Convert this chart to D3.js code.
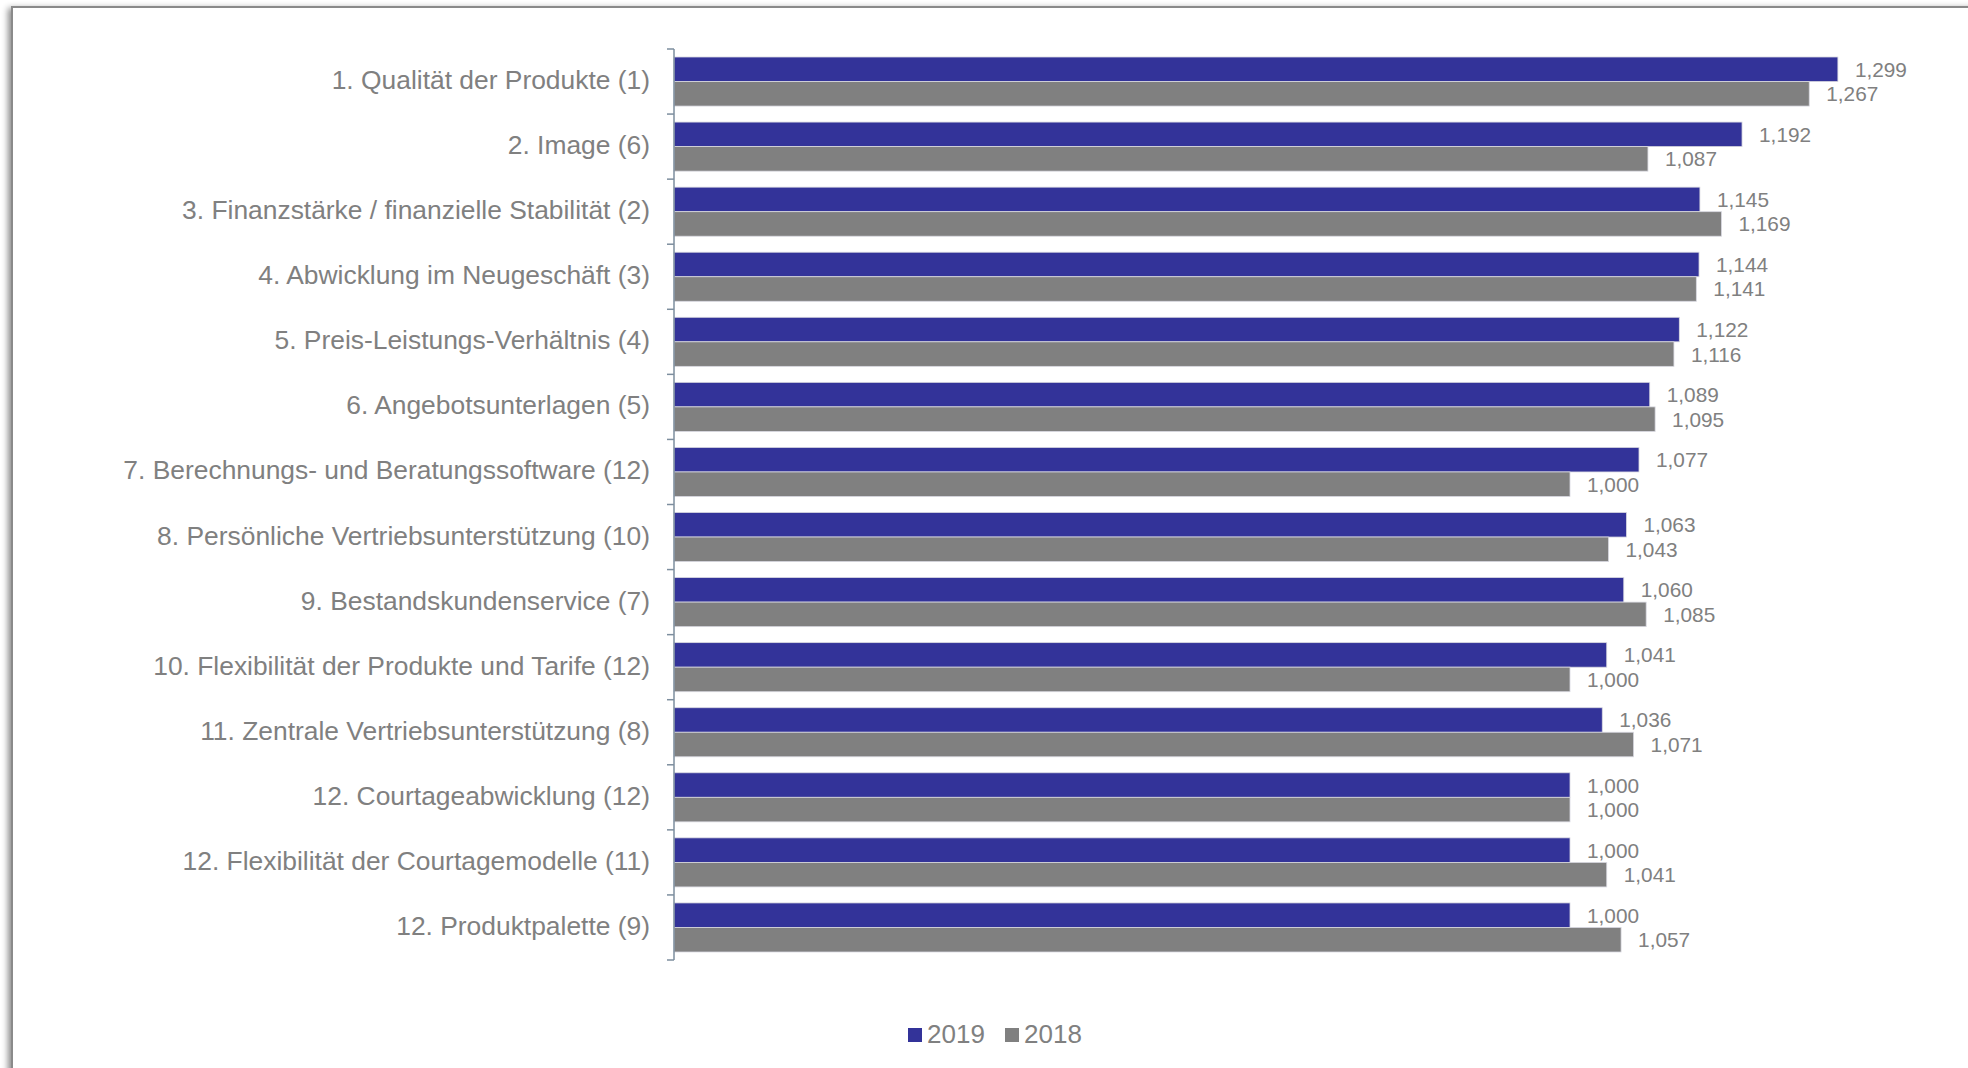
<!DOCTYPE html>
<html><head><meta charset="utf-8">
<script src="https://cdn.jsdelivr.net/npm/d3@7"></script>
<style>html,body{margin:0;padding:0;background:#fff;}svg{display:block;font-family:"Liberation Sans",Arial,sans-serif;}</style>
</head><body>
<svg id="chart" width="1968" height="1068"></svg>
<script>
const categories = [
  "1. Qualität der Produkte (1)",
  "2. Image (6)",
  "3. Finanzstärke / finanzielle Stabilität (2)",
  "4. Abwicklung im Neugeschäft (3)",
  "5. Preis-Leistungs-Verhältnis (4)",
  "6. Angebotsunterlagen (5)",
  "7. Berechnungs- und Beratungssoftware (12)",
  "8. Persönliche Vertriebsunterstützung (10)",
  "9. Bestandskundenservice (7)",
  "10. Flexibilität der Produkte und Tarife (12)",
  "11. Zentrale Vertriebsunterstützung (8)",
  "12. Courtageabwicklung (12)",
  "12. Flexibilität der Courtagemodelle (11)",
  "12. Produktpalette (9)"
];
const values2019 = [1.299,1.192,1.145,1.144,1.122,1.089,1.077,1.063,1.060,1.041,1.036,1.000,1.000,1.000];
const values2018 = [1.267,1.087,1.169,1.141,1.116,1.095,1.000,1.043,1.085,1.000,1.071,1.000,1.041,1.057];
const seriesNames = ["2019","2018"];
const seriesColors = ["#333399","#808080"];

const svg = d3.select("#chart");
const defs = svg.append("defs");
const f = defs.append("filter").attr("id","sh").attr("x","-5%").attr("y","-5%").attr("width","110%").attr("height","110%");
f.append("feDropShadow").attr("dx",-3).attr("dy",2).attr("stdDeviation",3).attr("flood-color","#000").attr("flood-opacity",0.45);

// frame
svg.append("rect").attr("x",12).attr("y",7).attr("width",2000).attr("height",1100)
  .attr("fill","#fff").attr("stroke","#8a8a8a").attr("stroke-width",2).attr("filter","url(#sh)");

const locale = d3.formatLocale({decimal:",",thousands:".",grouping:[3],currency:["","€"]});
const fmt = locale.format(".3f");

const plotTop = 49, plotBottom = 960;
const x = d3.scaleLinear().domain([0,1.3]).range([674,674+1164.8]);
const y = d3.scaleBand().domain(categories).range([plotTop,plotBottom]).paddingInner(0.246).paddingOuter(0.123);
const ySub = d3.scaleBand().domain(seriesNames).range([0,y.bandwidth()]);

const data = categories.map((c,i)=>({cat:c, vals:[values2019[i],values2018[i]]}));

const g = svg.append("g");
const groups = g.selectAll("g.cat").data(data).join("g").attr("class","cat")
  .attr("transform",d=>`translate(0,${y(d.cat)})`);
groups.selectAll("rect").data(d=>d.vals.map((v,j)=>({v,s:seriesNames[j],c:seriesColors[j]})))
  .join("rect")
  .attr("x",x(0)).attr("y",d=>ySub(d.s)).attr("width",d=>x(d.v)-x(0)).attr("height",ySub.bandwidth())
  .attr("fill",d=>d.c).attr("stroke","#d8d8e0").attr("stroke-width",0.8);
groups.selectAll("text").data(d=>d.vals.map((v,j)=>({v,s:seriesNames[j]})))
  .join("text")
  .attr("x",d=>x(d.v)+17).attr("y",d=>ySub(d.s)+ySub.bandwidth()/2)
  .attr("dy","0.36em").attr("fill","#808080").attr("font-size",20.8)
  .text(d=>fmt(d.v));

// axis with ticks at band boundaries
const axisColor = "#7d8e9e";
const step = (plotBottom-plotTop)/categories.length;
const boundaries = d3.range(categories.length+1).map(i=>plotTop + i*step);
g.append("line").attr("x1",x(0)).attr("x2",x(0)).attr("y1",plotTop).attr("y2",plotBottom)
  .attr("stroke",axisColor).attr("stroke-width",1.5);
g.selectAll("line.tick").data(boundaries).join("line").attr("class","tick")
  .attr("x1",x(0)-7).attr("x2",x(0)).attr("y1",d=>d).attr("y2",d=>d)
  .attr("stroke",axisColor).attr("stroke-width",1.5);

g.selectAll("text.lab").data(categories).join("text").attr("class","lab")
  .attr("x",650).attr("y",d=>y(d)+y.bandwidth()/2-2).attr("dy","0.36em")
  .attr("text-anchor","end").attr("fill","#808080").attr("font-size",26.4).text(d=>d);

// legend
const leg = svg.append("g").attr("transform","translate(908,1034)");
const items = leg.selectAll("g").data(seriesNames).join("g").attr("transform",(d,i)=>`translate(${i*97},0)`);
items.append("rect").attr("x",0).attr("y",-6).attr("width",14).attr("height",14).attr("fill",(d,i)=>seriesColors[i]);
items.append("text").attr("x",19).attr("y",0).attr("dy","0.36em").attr("fill","#808080").attr("font-size",26).text(d=>d);
</script>
</body></html>
